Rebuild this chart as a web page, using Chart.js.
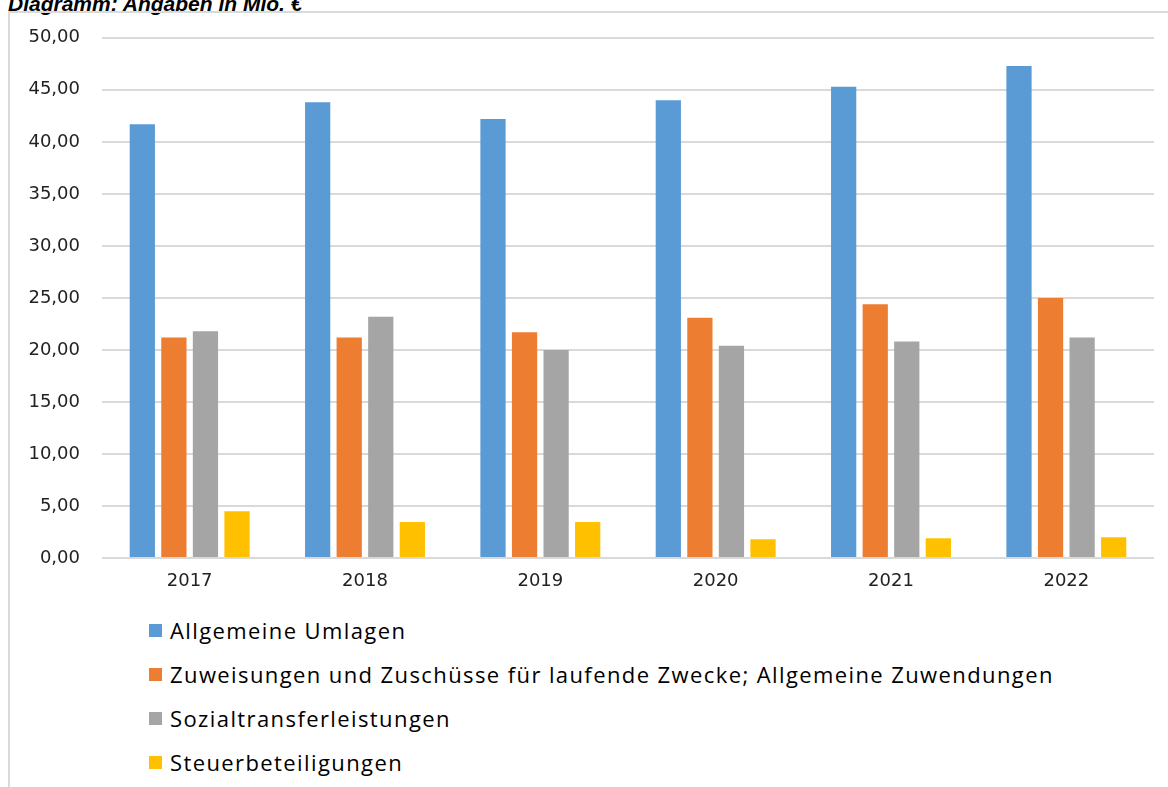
<!DOCTYPE html>
<html>
<head>
<meta charset="utf-8">
<script src="https://cdn.jsdelivr.net/npm/chart.js@4/dist/chart.umd.min.js"></script>
<style>
    body { margin:0; background:#fff; width:1168px; height:787px; overflow:hidden; position:relative; font-family:"Open Sans", sans-serif; }
    #title { position:absolute; left:8px; top:-8px; font:italic bold 21px "Liberation Sans", Arial, sans-serif; color:#000; white-space:nowrap; }
    #frame { position:absolute; left:8px; top:11px; width:1200px; height:820px; border:2px solid #d9d9d9; box-sizing:border-box; }
    #wrap { position:absolute; left:10px; top:5px; width:1158px; height:594px; }
    #legend { position:absolute; left:149px; top:608px; }
    .item { display:flex; align-items:center; height:44px; font-size:22px; color:#000; letter-spacing:1.4px; white-space:nowrap; }
    .box { width:13px; height:13px; margin-right:8px; }
</style>
</head>
<body>
<div id="title">Diagramm: Angaben in Mio. €</div>
<div id="frame"></div>
<div id="wrap"><canvas id="chart"></canvas></div>
<div id="legend"></div>
<script>
const years = ["2017","2018","2019","2020","2021","2022"];
const seriesNames = [
    "Allgemeine Umlagen",
    "Zuweisungen und Zuschüsse für laufende Zwecke; Allgemeine Zuwendungen",
    "Sozialtransferleistungen",
    "Steuerbeteiligungen"
];
const umlagen = [41.7, 43.8, 42.2, 44.0, 45.3, 47.3];
const zuweisungen = [21.2, 21.2, 21.7, 23.1, 24.4, 25.0];
const sozial = [21.8, 23.2, 20.0, 20.4, 20.8, 21.2];
const steuer = [4.5, 3.45, 3.45, 1.8, 1.9, 2.0];
const colors = ["#5b9bd5", "#ed7d31", "#a5a5a5", "#ffc000"];

const values = [umlagen, zuweisungen, sozial, steuer];

const chart = new Chart(document.getElementById("chart"), {
    type:'bar',
    data:{
        labels:years,
        datasets: seriesNames.map((name, i) => ({
            label:name, data:values[i], backgroundColor:colors[i],
            barPercentage:0.8, categoryPercentage:0.72
        }))
    },
    options:{
        responsive:true,
        maintainAspectRatio:false,
        animation:false,
        layout:{padding:{top:15, right:14, left:0, bottom:0}},
        plugins:{legend:{display:false}, tooltip:{enabled:false}},
        scales:{
            x:{
                grid:{display:false, drawTicks:false},
                border:{display:false},
                ticks:{color:"#222", font:{family:"DejaVu Sans", size:18}, padding:13},
                afterFit: s => { s.height = 41; }
            },
            y:{
                min:0, max:50,
                grid:{color:"#d9d9d9", lineWidth:2, drawTicks:false},
                border:{display:false},
                ticks:{
                    stepSize:5, color:"#222", padding:22,
                    font:{family:"DejaVu Sans", size:18},
                    callback:v => v.toFixed(2).replace(".", ",")
                },
                afterFit: s => { s.width = 92; }
            }
        }
    }
});

/* legend, one entry per line */
const legend = document.getElementById("legend");
chart.data.datasets.forEach(ds => {
    const row = document.createElement("div");
    row.className = "item";
    row.innerHTML = `<span class="box" style="background:${ds.backgroundColor}"></span>${ds.label}`;
    legend.appendChild(row);
});
</script>
</body>
</html>
